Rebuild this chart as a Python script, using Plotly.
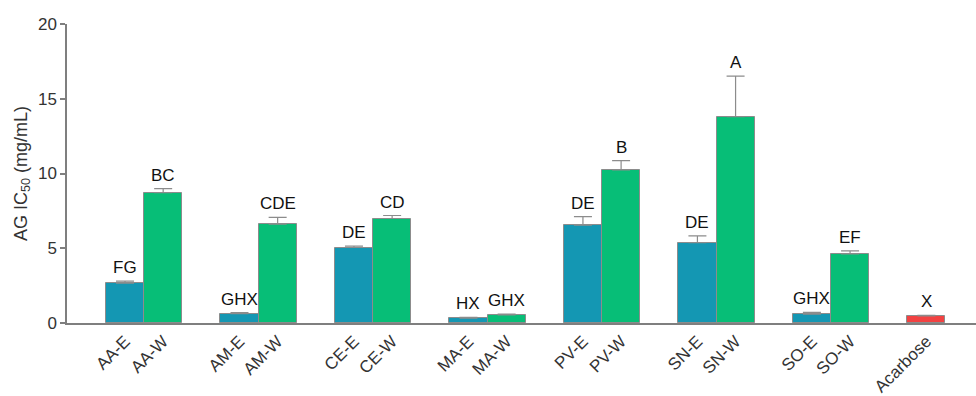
import plotly.graph_objects as go

# Sample labels, slot positions along the x axis, IC50 means and upper errors
categories = ["AA-E", "AA-W", "AM-E", "AM-W", "CE-E", "CE-W", "MA-E", "MA-W",
              "PV-E", "PV-W", "SN-E", "SN-W", "SO-E", "SO-W", "Acarbose"]
slots = [0, 1, 3, 4, 6, 7, 9, 10, 12, 13, 15, 16, 18, 19, 21]
ic50 = [2.67, 8.72, 0.62, 6.61, 5.05, 6.99, 0.33, 0.55,
        6.55, 10.24, 5.38, 13.8, 0.60, 4.63, 0.47]
err_plus = [0.13, 0.27, 0.07, 0.45, 0.09, 0.20, 0.05, 0.05,
            0.57, 0.62, 0.45, 2.72, 0.11, 0.20, 0.04]
groups = ["FG", "BC", "GHX", "CDE", "DE", "CD", "HX", "GHX",
          "DE", "B", "DE", "A", "GHX", "EF", "X"]
kind = ["E", "W", "E", "W", "E", "W", "E", "W",
        "E", "W", "E", "W", "E", "W", "ref"]

palette = {"E": "#1497B3", "W": "#07BE77", "ref": "#F24242"}
colors = [palette[k] for k in kind]

FONT = "Liberation Sans, Arial, sans-serif"

fig = go.Figure()
fig.add_trace(go.Bar(
    x=slots, y=ic50, width=1.0,
    marker=dict(color=colors, line=dict(color="#8C8C8C", width=1)),
    error_y=dict(type="data", array=err_plus, symmetric=False,
                 arrayminus=[0] * len(ic50),
                 color="#8C8C8C", thickness=1.2, width=9),
    showlegend=False, hoverinfo="x+y",
))

for xs, v, e, g in zip(slots, ic50, err_plus, groups):
    fig.add_annotation(x=xs, y=v + e, text=g, showarrow=False,
                       yanchor="bottom", yshift=2,
                       font=dict(family=FONT, size=17, color="#111111"))

fig.update_layout(
    width=976, height=396,
    margin=dict(l=67, r=0, t=24, b=73),
    plot_bgcolor="white", paper_bgcolor="white",
    bargap=0,
    font=dict(family=FONT, size=17, color="#333333"),
)
fig.update_xaxes(
    range=[-1.52, 22.3], automargin=False,
    tickmode="array", tickvals=slots, ticktext=categories,
    tickangle=-45, ticks="", showgrid=False, zeroline=False,
    showline=True, linecolor="#7F7F7F", linewidth=1.5,
    tickfont=dict(family=FONT, size=17, color="#333333"),
)
fig.update_yaxes(
    range=[0, 20], tickvals=[0, 5, 10, 15, 20], automargin=False,
    ticks="outside", ticklen=5, tickcolor="#7F7F7F", tickwidth=1.5,
    showgrid=False, zeroline=False,
    showline=True, linecolor="#7F7F7F", linewidth=1.5,
    tickfont=dict(family=FONT, size=17, color="#333333"),
    title=dict(text="AG IC<sub>50</sub> (mg/mL)", standoff=6,
               font=dict(family=FONT, size=18, color="#333333")),
)

fig.write_html("out.html")
